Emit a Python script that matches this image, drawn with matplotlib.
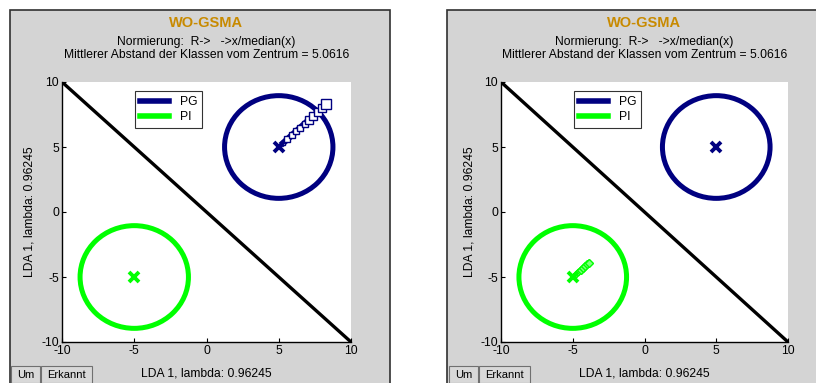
import matplotlib
matplotlib.use("Agg")
import matplotlib.pyplot as plt
import numpy as np
from matplotlib.patches import Rectangle, Ellipse
from matplotlib.lines import Line2D

plt.rcParams['font.family'] = ['Liberation Sans', 'DejaVu Sans']
plt.rcParams['axes.unicode_minus'] = False

W, H = 816, 383
title = "WO-GSMA"
subtitle1 = "Normierung:  R->   ->x/median(x)"
subtitle2 = "Mittlerer Abstand der Klassen vom Zentrum = 5.0616"
axis_label = "LDA 1, lambda: 0.96245"
ticks = [-10, -5, 0, 5, 10]
classes = ["PG", "PI"]
class_colors = ["#000080", "#00ff00"]
centers_x = [5.0, -5.0]
centers_y = [5.0, -5.0]
ring_rx = [3.75, 3.75]
ring_ry = [3.95, 3.95]
diag_x = [-10, 10]
diag_y = [10, -10]

# trails of the moving class (left: PG, right: PI)
trail_left_x = [5.3, 5.6, 5.9, 6.2, 6.5, 6.8, 7.1, 7.4, 7.7, 8.0, 8.3]
trail_left_y = [5.3, 5.6, 5.9, 6.2, 6.5, 6.8, 7.1, 7.4, 7.7, 8.0, 8.3]
trail_right_x = [-4.9, -4.75, -4.6, -4.45, -4.3, -4.15, -4.0, -3.9]
trail_right_y = [-4.9, -4.75, -4.6, -4.45, -4.3, -4.15, -4.0, -3.9]

FS = 8.7

fig = plt.figure(figsize=(W / 100, H / 100), dpi=100)
fig.patch.set_facecolor("white")

def px(x0, y0, w, h):
    return [x0 / W, 1 - (y0 + h) / H, w / W, h / H]

panels = [
    dict(frame=(10, 10, 380, 380), ax=(62, 82, 289, 260), leg=(135, 91),
         btn=(11, 366), trail=(trail_left_x, trail_left_y, 0)),
    dict(frame=(447, 10, 380, 380), ax=(501, 82, 287, 260), leg=(574, 91),
         btn=(449, 366), trail=(trail_right_x, trail_right_y, 1)),
]

gray = "#d4d4d4"
for p in panels:
    fx, fy, fw, fh = p["frame"]
    ax_x0, ax_y0, ax_w, ax_h = p["ax"]
    fig.patches.append(Rectangle((fx / W, 1 - (fy + fh) / H), fw / W, fh / H,
                                 transform=fig.transFigure, facecolor=gray,
                                 edgecolor="#303030", linewidth=1.2, zorder=-5))
    ax = fig.add_axes(px(*p["ax"]))
    ax.set_facecolor("white")
    ax.set_xlim(-10, 10)
    ax.set_ylim(-10, 10)
    ax.set_xticks(ticks)
    ax.set_yticks(ticks)
    ax.tick_params(direction="in", length=3, width=0.8, labelsize=FS,
                   colors="black", pad=2)
    for s in ["top", "right"]:
        ax.spines[s].set_visible(False)
    for s in ["left", "bottom"]:
        ax.spines[s].set_linewidth(1.0)
    ax.set_xlabel(axis_label, fontsize=FS, va="center")
    ax.set_ylabel(axis_label, fontsize=FS, va="center")
    ax.xaxis.set_label_coords(0.5, -31 / ax_h)
    ax.yaxis.set_label_coords(-32 / ax_w, 0.5)

    ax.plot(diag_x, diag_y, color="black", linewidth=2.4, solid_capstyle="butt", zorder=3)
    handles = []
    for i in range(2):
        e = Ellipse((centers_x[i], centers_y[i]), 2 * ring_rx[i], 2 * ring_ry[i],
                    fill=False, edgecolor=class_colors[i], linewidth=3.6, zorder=4)
        ax.add_patch(e)
        ax.plot([centers_x[i]], [centers_y[i]], marker="x", color=class_colors[i],
                markersize=7.5, markeredgewidth=2.8, linestyle="none", zorder=6)
        handles.append(Line2D([0], [0], color=class_colors[i], linewidth=4))
    tx, ty, ci = p["trail"]
    if ci == 0:
        sizes = np.linspace(3.5, 6.5, len(tx))
    else:
        sizes = np.linspace(3.0, 4.5, len(tx))
    ax.plot(tx, ty, color=class_colors[ci], linewidth=4.5 if ci == 0 else 3.5, zorder=5)
    for k in range(len(tx)):
        ax.plot([tx[k]], [ty[k]], marker="s" if ci == 0 else "D",
                markerfacecolor="white" if ci == 0 else "#80ff80",
                markeredgecolor=class_colors[ci], markersize=sizes[k],
                markeredgewidth=1.0, linestyle="none", zorder=5)

    lx, ly = p["leg"]
    leg = ax.legend(handles, classes, loc="upper left",
                    bbox_to_anchor=((lx - ax_x0) / ax_w, 1 - (ly - ax_y0) / ax_h),
                    fontsize=FS, frameon=True, fancybox=False, handlelength=2.4,
                    handletextpad=0.9, borderpad=0.4, labelspacing=0.3,
                    borderaxespad=0)
    leg.get_frame().set_edgecolor("black")
    leg.get_frame().set_linewidth(0.8)

    cx = (ax_x0 + ax_w / 2) / W
    fig.text(cx, 1 - 23 / H, title, ha="center", va="center", fontsize=10.5,
             fontweight="bold", color="#c88a00")
    fig.text(cx, 1 - 42 / H, subtitle1, ha="center", va="center", fontsize=FS)
    fig.text(cx, 1 - 55 / H, subtitle2, ha="center", va="center", fontsize=FS)

    bx, by = p["btn"]
    for label, bw, off in [("Um", 29, 0), ("Erkannt", 51, 30)]:
        fig.patches.append(Rectangle(((bx + off) / W, 1 - (by + 17) / H), bw / W, 17 / H,
                                     transform=fig.transFigure, facecolor="#d8d8d8",
                                     edgecolor="#707070", linewidth=0.8, zorder=2))
        fig.text((bx + off + bw / 2) / W, 1 - (by + 9) / H, label, ha="center",
                 va="center", fontsize=8)

fig.savefig("out.png", dpi=100)
